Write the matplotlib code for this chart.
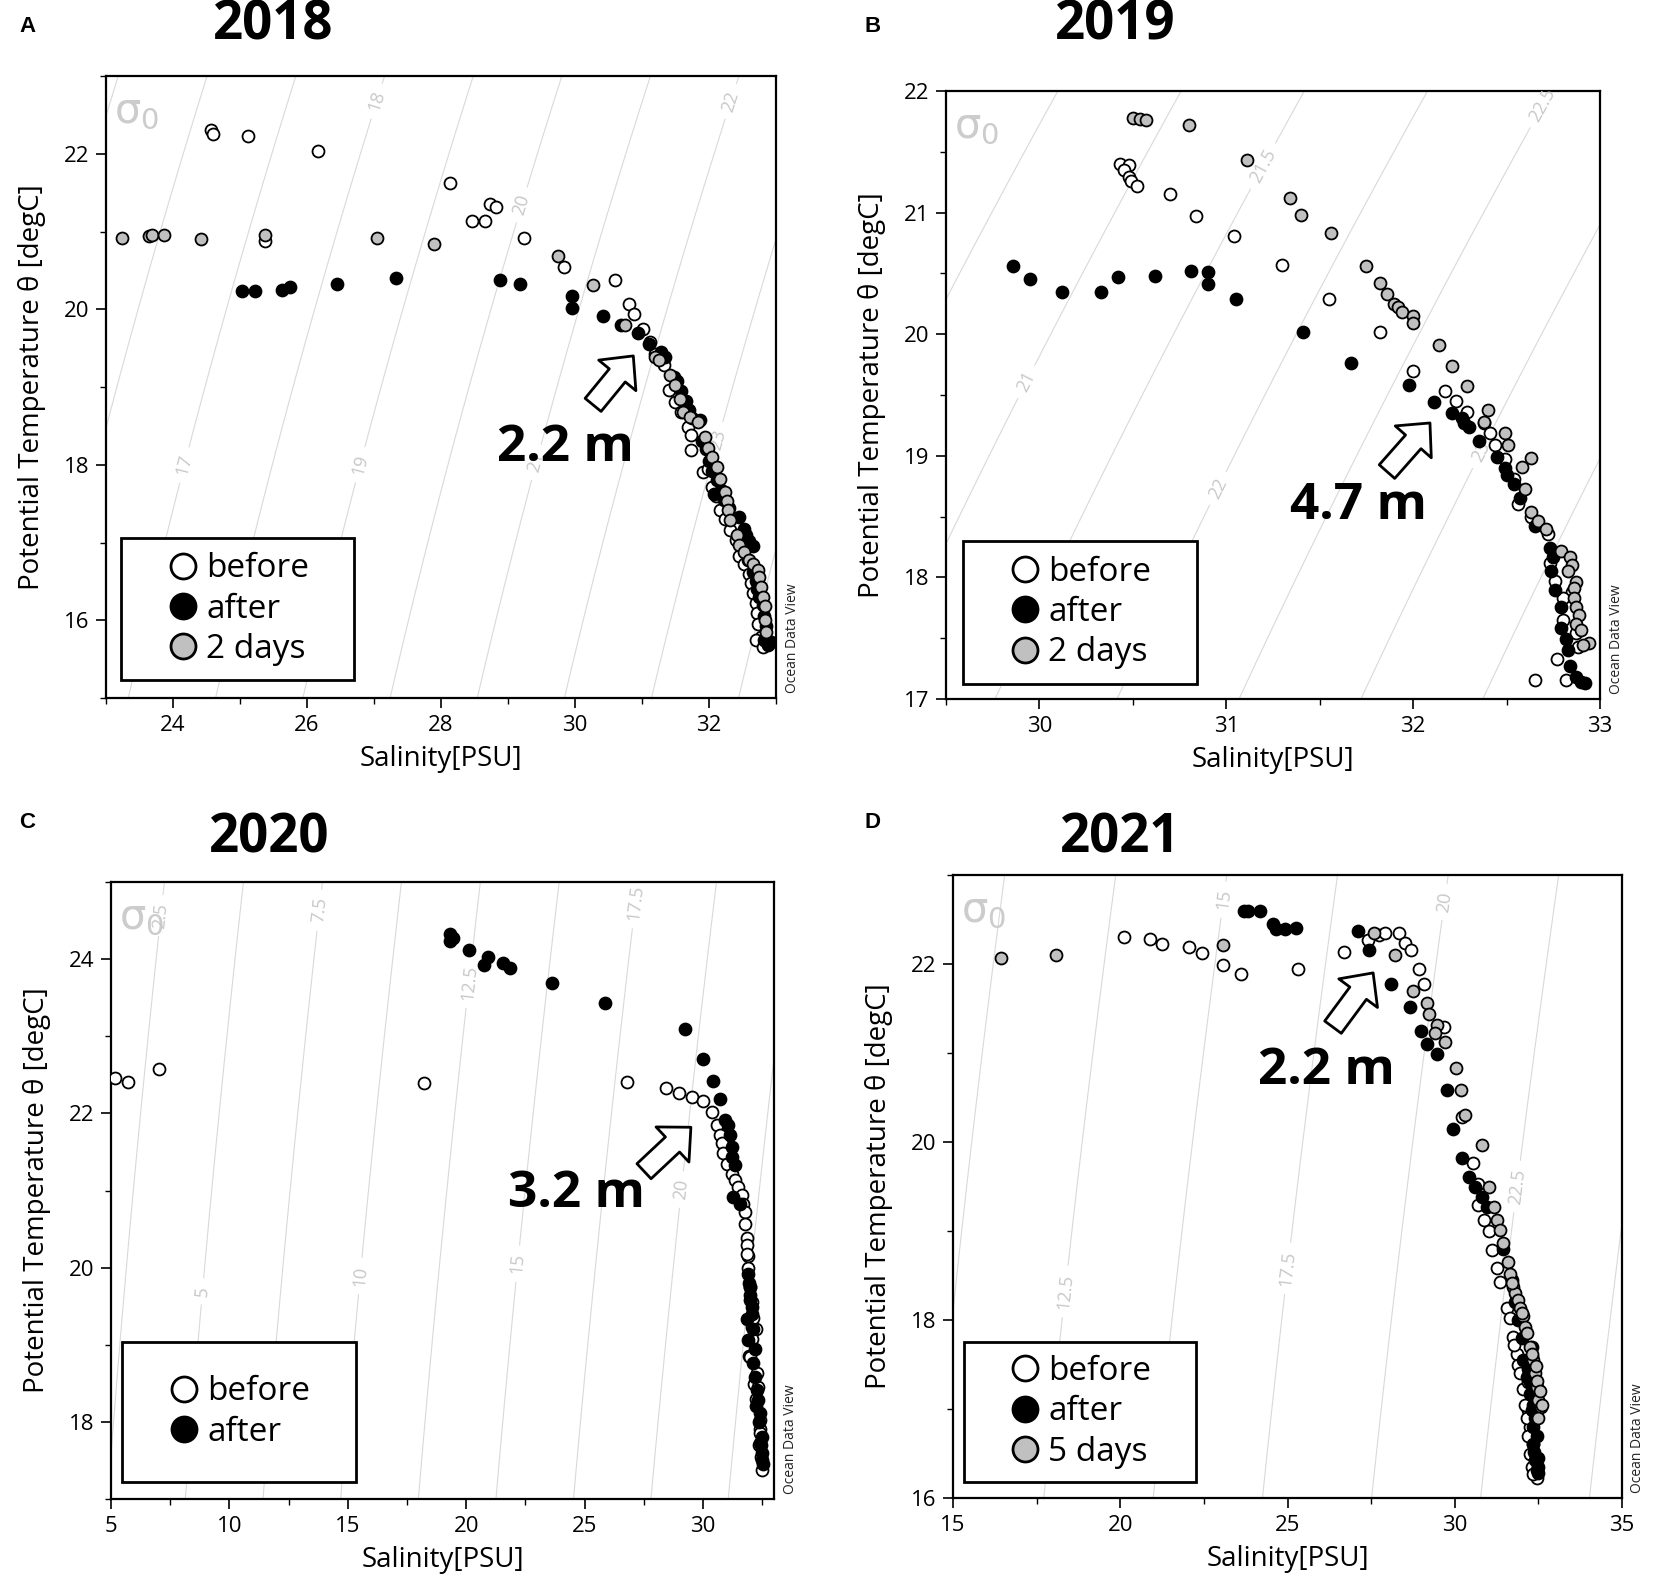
import numpy as np
import matplotlib
matplotlib.use("Agg")
import matplotlib.pyplot as plt
from matplotlib.lines import Line2D
from matplotlib.patches import FancyArrowPatch, Rectangle, ArrowStyle
from matplotlib.ticker import MultipleLocator

plt.rcParams["font.family"] = ["Open Sans", "DejaVu Sans"]
# upright sigma for the corner label
plt.rcParams["mathtext.fontset"] = "custom"
plt.rcParams["mathtext.rm"] = "DejaVu Sans"
plt.rcParams["mathtext.it"] = "DejaVu Sans"

# ---------------- data: 2018 (A) ----------------
s18_before = [24.56, 24.60, 25.12, 26.16, 28.13, 28.47, 28.65, 28.73, 28.82, 29.24, 29.84, 30.59,
              30.81, 30.88, 25.38, 31.02, 31.12, 31.20, 31.33, 31.40, 31.50, 31.58, 31.68, 31.73,
              31.73, 31.91, 31.98, 32.04, 32.10, 32.17, 32.24, 32.32, 32.40, 32.45, 32.52, 32.60,
              32.63, 32.65, 32.70, 32.72, 32.73, 32.78, 32.70, 32.80]
t18_before = [22.31, 22.25, 22.23, 22.04, 21.62, 21.14, 21.14, 21.35, 21.32, 20.91, 20.54, 20.37,
              20.07, 19.94, 20.88, 19.74, 19.58, 19.42, 19.28, 18.96, 18.81, 18.68, 18.49, 18.38,
              18.19, 17.91, 17.95, 17.72, 17.60, 17.42, 17.30, 17.16, 17.03, 16.82, 16.72, 16.60,
              16.48, 16.35, 16.22, 16.09, 15.95, 15.79, 15.75, 15.66]
s18_after = [25.03, 25.22, 25.63, 25.75, 26.45, 27.33, 28.88, 29.18, 29.95, 29.95, 30.42, 30.69,
             30.94, 31.11, 31.28, 31.35, 31.48, 31.52, 31.58, 31.65, 31.70, 31.75, 31.86, 31.90,
             31.95, 32.00, 32.05, 32.07, 32.12, 32.18, 32.22, 32.30, 32.45, 32.52, 32.55, 32.60,
             32.65, 32.58, 32.65, 32.70, 32.72, 32.75, 32.80, 32.82, 32.85, 32.82, 32.88, 32.92]
t18_after = [20.23, 20.24, 20.25, 20.28, 20.32, 20.40, 20.37, 20.33, 20.17, 20.02, 19.91, 19.80,
             19.70, 19.55, 19.45, 19.38, 19.13, 19.08, 18.95, 18.82, 18.70, 18.60, 18.58, 18.30,
             18.20, 18.05, 17.92, 17.63, 17.80, 17.68, 17.55, 17.45, 17.33, 17.18, 17.10, 17.02,
             16.95, 16.78, 16.62, 16.50, 16.40, 16.30, 16.20, 16.05, 15.92, 15.75, 15.68, 15.72]
s18_2days = [23.24, 23.64, 23.68, 23.87, 24.42, 25.38, 27.04, 27.89, 29.75, 30.27, 30.75, 31.20,
             31.25, 31.42, 31.50, 31.56, 31.61, 31.72, 31.84, 31.94, 31.98, 32.04, 32.12, 32.16,
             32.24, 32.27, 32.28, 32.32, 32.42, 32.45, 32.52, 32.60, 32.66, 32.73, 32.75, 32.78,
             32.80, 32.83, 32.84, 32.85]
t18_2days = [20.92, 20.94, 20.96, 20.95, 20.90, 20.95, 20.91, 20.84, 20.68, 20.31, 19.80, 19.39,
             19.35, 19.15, 19.03, 18.85, 18.68, 18.62, 18.55, 18.36, 18.22, 18.10, 17.97, 17.82,
             17.65, 17.53, 17.42, 17.29, 17.10, 16.97, 16.88, 16.78, 16.72, 16.65, 16.55, 16.43,
             16.30, 16.18, 16.00, 15.85]

# ---------------- data: 2019 (B) ----------------
s19_before = [30.43, 30.48, 30.45, 30.48, 30.49, 30.52, 30.70, 30.84, 31.04, 31.30, 31.55, 31.82,
              32.00, 32.17, 32.23, 32.29, 32.38, 32.41, 32.44, 32.49, 32.54, 32.56, 32.63, 32.72,
              32.73, 32.76, 32.85, 32.80, 32.80, 32.87, 32.88, 32.77, 32.65, 32.82]
t19_before = [21.40, 21.39, 21.35, 21.29, 21.26, 21.22, 21.15, 20.97, 20.81, 20.57, 20.29, 20.02,
              19.70, 19.53, 19.45, 19.36, 19.27, 19.19, 19.09, 18.97, 18.81, 18.60, 18.50, 18.36,
              18.12, 17.97, 17.88, 17.83, 17.65, 17.54, 17.43, 17.33, 17.16, 17.16]
s19_after = [29.86, 29.95, 30.12, 30.33, 30.42, 30.62, 30.81, 30.90, 30.90, 31.05, 31.41, 31.67,
             31.98, 32.11, 32.21, 32.26, 32.27, 32.30, 32.35, 32.45, 32.49, 32.50, 32.54, 32.57,
             32.65, 32.73, 32.75, 32.74, 32.76, 32.79, 32.79, 32.82, 32.83, 32.84, 32.87, 32.90,
             32.92]
t19_after = [20.56, 20.45, 20.35, 20.35, 20.47, 20.48, 20.52, 20.51, 20.41, 20.29, 20.02, 19.76,
             19.58, 19.44, 19.35, 19.31, 19.27, 19.24, 19.12, 18.99, 18.90, 18.84, 18.77, 18.65,
             18.42, 18.24, 18.17, 18.05, 17.90, 17.76, 17.58, 17.49, 17.40, 17.27, 17.18, 17.14,
             17.13]
s19_2days = [30.50, 30.54, 30.57, 30.80, 31.11, 31.34, 31.40, 31.56, 31.75, 31.82, 31.86, 31.90,
             31.92, 31.94, 32.00, 32.00, 32.14, 32.21, 32.29, 32.40, 32.38, 32.49, 32.51, 32.63,
             32.58, 32.60, 32.63, 32.67, 32.71, 32.79, 32.84, 32.85, 32.83, 32.87, 32.86, 32.86,
             32.87, 32.89, 32.87, 32.90, 32.94, 32.91]
t19_2days = [21.78, 21.77, 21.76, 21.72, 21.43, 21.12, 20.98, 20.83, 20.56, 20.42, 20.33, 20.25,
             20.22, 20.18, 20.15, 20.09, 19.91, 19.74, 19.57, 19.38, 19.28, 19.19, 19.09, 18.98,
             18.91, 18.73, 18.54, 18.46, 18.40, 18.22, 18.17, 18.10, 18.05, 17.96, 17.91, 17.83,
             17.76, 17.69, 17.62, 17.57, 17.46, 17.44]

# ---------------- data: 2020 (C) ----------------
s20_before = [5.19, 5.73, 7.03, 18.20, 26.81, 28.45, 28.99, 29.55, 30.00, 30.37, 30.58, 30.72,
              30.79, 30.86, 31.00, 31.21, 31.35, 31.49, 31.63, 31.70, 31.77, 31.77, 31.84, 31.84,
              31.90, 31.84, 32.05, 32.05, 32.22, 32.05, 31.94, 31.98, 32.16, 32.27, 32.34, 32.42,
              32.41, 32.41, 32.48, 31.90, 32.00, 32.10, 32.25, 32.35, 32.45]
t20_before = [22.46, 22.41, 22.57, 22.39, 22.41, 22.33, 22.26, 22.21, 22.16, 22.02, 21.85, 21.72,
              21.61, 21.48, 21.35, 21.22, 21.14, 21.05, 20.94, 20.83, 20.72, 20.57, 20.38, 20.29,
              20.15, 20.18, 19.55, 19.23, 19.21, 19.08, 18.86, 18.84, 18.49, 18.63, 18.45, 17.91,
              18.02, 17.85, 17.37, 20.00, 19.75, 19.35, 18.30, 17.70, 17.55]
s20_after = [19.32, 19.45, 19.30, 20.14, 20.94, 20.75, 21.57, 21.87, 23.64, 25.86, 29.25, 30.01,
             30.44, 30.72, 30.93, 31.07, 31.14, 31.21, 31.21, 31.35, 31.28, 31.56, 31.91, 31.98,
             31.98, 32.05, 31.84, 31.91, 32.12, 32.19, 32.27, 32.34, 32.41, 32.41, 32.48, 32.48,
             32.55, 31.95, 32.00, 32.05, 32.10, 32.20, 32.25, 32.35, 32.45, 32.50]
t20_after = [24.32, 24.27, 24.23, 24.12, 24.03, 23.92, 23.95, 23.88, 23.69, 23.43, 23.09, 22.71,
             22.42, 22.19, 21.91, 21.85, 21.72, 21.57, 21.44, 21.33, 20.92, 20.83, 19.92, 19.75,
             19.58, 19.49, 19.34, 19.06, 18.76, 18.58, 18.41, 18.28, 18.11, 17.72, 17.81, 17.59,
             17.46, 19.80, 19.65, 19.40, 19.20, 18.95, 18.20, 18.00, 17.70, 17.50]

# ---------------- data: 2021 (D) ----------------
s21_before = [20.11, 20.89, 21.25, 22.05, 22.43, 23.07, 23.62, 25.31, 26.69, 27.41, 27.73, 27.92,
              28.33, 28.52, 28.68, 28.92, 29.08, 29.67, 30.56, 30.21, 30.71, 30.71, 30.86, 31.01,
              31.11, 31.26, 31.36, 31.55, 31.65, 31.75, 31.85, 31.90, 32.05, 32.20, 32.25, 32.35,
              32.40, 32.45, 31.78, 31.95, 32.10, 32.15, 32.20, 32.25, 32.30, 32.35, 32.20, 32.30,
              32.40]
t21_before = [22.30, 22.28, 22.23, 22.19, 22.12, 21.99, 21.89, 21.94, 22.13, 22.27, 22.33, 22.35,
              22.35, 22.24, 22.16, 21.94, 21.77, 21.29, 19.76, 20.28, 19.53, 19.29, 19.12, 19.00,
              18.79, 18.58, 18.43, 18.13, 18.02, 17.81, 17.62, 17.49, 17.23, 16.99, 16.80, 16.61,
              16.39, 16.22, 17.72, 17.40, 17.05, 16.90, 16.70, 16.50, 16.35, 16.27, 17.30, 17.60,
              17.15]
s21_after = [23.70, 23.83, 24.18, 24.58, 24.67, 24.94, 25.26, 27.12, 27.44, 28.08, 28.65, 29.00,
             29.16, 29.48, 29.78, 29.94, 30.21, 30.44, 30.61, 30.81, 30.96, 31.45, 31.70, 31.90,
             32.05, 32.15, 32.25, 32.30, 32.35, 32.35, 32.40, 32.45, 32.50, 32.20, 32.25, 32.35,
             32.40, 32.45, 32.38, 32.48, 32.50, 32.30, 31.80, 32.00]
t21_after = [22.60, 22.59, 22.59, 22.45, 22.39, 22.39, 22.40, 22.37, 22.16, 21.78, 21.52, 21.25,
             21.10, 20.99, 20.58, 20.15, 19.82, 19.61, 19.50, 19.38, 19.27, 18.80, 18.45, 18.00,
             17.55, 17.36, 17.17, 16.99, 16.80, 16.61, 16.43, 16.31, 16.35, 17.45, 17.30, 17.05,
             16.90, 16.70, 16.52, 16.45, 16.28, 17.70, 18.20, 17.80]
s21_5days = [16.43, 18.09, 23.08, 27.60, 28.21, 28.76, 29.16, 29.24, 29.48, 29.40, 29.72, 30.04,
             30.20, 30.32, 30.81, 31.01, 31.16, 31.26, 31.36, 31.44, 31.60, 31.65, 31.75, 31.80,
             31.90, 31.95, 32.05, 32.10, 32.25, 32.35, 32.40, 32.45, 32.50, 32.58, 32.15, 32.30,
             32.42, 32.45, 32.55, 32.60, 32.50, 31.70, 32.00]
t21_5days = [22.07, 22.10, 22.21, 22.35, 22.10, 21.70, 21.56, 21.44, 21.32, 21.23, 21.12, 20.83,
             20.58, 20.30, 19.97, 19.49, 19.27, 19.12, 19.01, 18.86, 18.65, 18.52, 18.37, 18.30,
             18.22, 18.13, 18.04, 17.92, 17.70, 17.55, 17.40, 17.25, 17.10, 17.02, 17.85, 17.62,
             17.48, 17.32, 17.20, 17.05, 16.90, 18.42, 18.08]

# isopycnal label anchor positions (salinity, temperature)
lab18 = [(24.15, 18.0), (27.06, 22.67), (26.79, 18.0), (29.22, 21.34), (29.39, 18.04),
         (32.34, 22.67), (32.15, 18.32)]
lab19 = [(29.94, 19.6), (31.21, 21.37), (30.97, 18.72), (32.69, 21.89), (32.38, 19.02)]
lab20 = [(7.24, 24.56), (8.97, 19.69), (13.93, 24.63), (15.55, 19.89), (20.08, 23.70),
         (22.23, 20.05), (27.2, 24.73), (29.14, 21.01)]
lab21 = [(18.34, 18.32), (23.15, 22.72), (25.02, 18.58), (29.8, 22.69), (31.87, 19.5)]

WHITE, BLACK, GRAY = "white", "black", "#c0c0c0"
W, H = 1654, 1583
fig = plt.figure(figsize=(W / 100, H / 100), dpi=100)


def sigma0(s, t):
    # UNESCO EOS-80 density at surface pressure, minus 1000
    rw = (999.842594 + 6.793952e-2 * t - 9.095290e-3 * t ** 2 + 1.001685e-4 * t ** 3
          - 1.120083e-6 * t ** 4 + 6.536332e-9 * t ** 5)
    a = 8.24493e-1 - 4.0899e-3 * t + 7.6438e-5 * t ** 2 - 8.2467e-7 * t ** 3 + 5.3875e-9 * t ** 4
    b = -5.72466e-3 + 1.0227e-4 * t - 1.6546e-6 * t ** 2
    return rw + a * s + b * s ** 1.5 + 4.8314e-4 * s ** 2 - 1000.0


def panel(box, xlim, ylim, xt, yt, levels, labpos, series, names, letter, year,
          letter_xy, year_xy, arrow, depth, depth_xy, leg_box):
    l, t, r, b = box
    ax = fig.add_axes([l / W, 1 - b / H, (r - l) / W, (b - t) / H])
    ax.set_xlim(xlim)
    ax.set_ylim(ylim)

    sg, tg = np.meshgrid(np.linspace(xlim[0], xlim[1], 300), np.linspace(ylim[0], ylim[1], 300))
    cs = ax.contour(sg, tg, sigma0(sg, tg), levels=levels, colors="#d9d9d9",
                    linewidths=0.8, zorder=1)
    txts = ax.clabel(cs, manual=labpos, inline=True, inline_spacing=8,
                     fmt=lambda v: f"{v:g}", fontsize=13, colors="#c8c8c8")
    for tx in txts:
        tx.set_clip_on(True)

    for (sx, ty), fc in zip(series, [WHITE, BLACK, GRAY]):
        ax.scatter(sx, ty, s=74, c=fc, edgecolors="black", linewidths=1.3, zorder=3)

    ax.xaxis.set_major_locator(MultipleLocator(xt[0]))
    ax.xaxis.set_minor_locator(MultipleLocator(xt[1]))
    ax.yaxis.set_major_locator(MultipleLocator(yt[0]))
    ax.yaxis.set_minor_locator(MultipleLocator(yt[1]))
    ax.tick_params(which="major", length=7, width=1.2, labelsize=16, pad=5)
    ax.tick_params(which="minor", length=4, width=1.0)
    for sp in ax.spines.values():
        sp.set_linewidth(1.6)

    ax.set_xlabel("Salinity[PSU]", fontsize=20)
    ax.set_ylabel("Potential Temperature θ [degC]", fontsize=20)
    ax.xaxis.set_label_coords(0.5, -47 / (b - t))
    ax.yaxis.set_label_coords(-60 / (r - l), 0.5)

    ax.text(0.012, 0.975, r"$\sigma_0$", transform=ax.transAxes, ha="left", va="top",
            fontsize=30, color="#cccccc", zorder=2)
    ax.text(1 + 16 / (r - l), 5 / (b - t), "Ocean Data View", transform=ax.transAxes,
            rotation=90, ha="center", va="bottom", fontsize=10, color="#222222")

    # legend box
    lx0, ly0, lx1, ly1 = leg_box
    bx = ((lx0 - l) / (r - l), (b - ly1) / (b - t), (lx1 - lx0) / (r - l), (ly1 - ly0) / (b - t))
    ax.add_patch(Rectangle(bx[:2], bx[2], bx[3], transform=ax.transAxes, fc="white",
                           ec="black", lw=2, zorder=5))
    handles = [Line2D([], [], ls="", marker="o", ms=18, mfc=fc, mec="black", mew=2)
               for fc in [WHITE, BLACK, GRAY][:len(names)]]
    leg = ax.legend(handles, names, loc="center", bbox_to_anchor=bx, bbox_transform=ax.transAxes,
                    frameon=False, fontsize=24, handletextpad=0.2, labelspacing=0.22,
                    borderaxespad=0, handlelength=1.0, borderpad=0)
    leg.set_zorder(6)

    ax.add_patch(FancyArrowPatch(arrow[0], arrow[1], shrinkA=0, shrinkB=0,
                                 arrowstyle=ArrowStyle.Simple(head_length=0.55, head_width=1.05,
                                                              tail_width=0.45),
                                 mutation_scale=33, fc="white", ec="black", lw=2, zorder=7))
    ax.text(depth_xy[0], depth_xy[1], depth, fontsize=37, fontweight="bold", ha="center",
            va="center", zorder=8)

    fig.text(letter_xy[0] / W, 1 - letter_xy[1] / H, letter, fontsize=16, fontweight="bold",
             family=["Liberation Sans", "DejaVu Sans"], ha="left", va="baseline")
    fig.text(year_xy[0] / W, 1 - year_xy[1] / H, year, fontsize=38, fontweight="bold",
             ha="center", va="baseline")
    return ax


panel((106, 76, 776, 698), (23, 33), (15, 23), (2, 1), (2, 1), np.arange(10, 27, 1), lab18,
      [(s18_before, t18_before), (s18_after, t18_after), (s18_2days, t18_2days)],
      ["before", "after", "2 days"], "A", "2018", (19, 32), (273, 40),
      ((30.27, 18.77), (30.87, 19.40)), "2.2 m", (29.85, 18.22), (121, 538, 354, 680))

panel((946, 91, 1600, 699), (29.5, 33), (17, 22), (1, 0.5), (1, 0.5), np.arange(19, 25, 0.5),
      lab19, [(s19_before, t19_before), (s19_after, t19_after), (s19_2days, t19_2days)],
      ["before", "after", "2 days"], "B", "2019", (864, 32), (1115, 40),
      ((31.86, 18.87), (32.09, 19.27)), "4.7 m", (31.71, 18.59), (963, 541, 1197, 684))

panel((111, 882, 774, 1499), (5, 33), (17, 25), (5, 2.5), (2, 1), np.arange(0, 27.5, 2.5),
      lab20, [(s20_before, t20_before), (s20_after, t20_after)],
      ["before", "after"], "C", "2020", (19, 828), (269, 852),
      ((27.51, 21.25), (29.49, 21.82)), "3.2 m", (24.68, 20.95), (122, 1342, 356, 1482))

panel((953, 875, 1622, 1498), (15, 35), (16, 23), (5, 2.5), (2, 1), np.arange(5, 27.5, 2.5),
      lab21, [(s21_before, t21_before), (s21_after, t21_after), (s21_5days, t21_5days)],
      ["before", "after", "5 days"], "D", "2021", (864, 828), (1120, 852),
      ((26.36, 21.29), (27.56, 21.90)), "2.2 m", (26.15, 20.80), (964, 1342, 1196, 1482))

fig.savefig("out.png", dpi=100)
